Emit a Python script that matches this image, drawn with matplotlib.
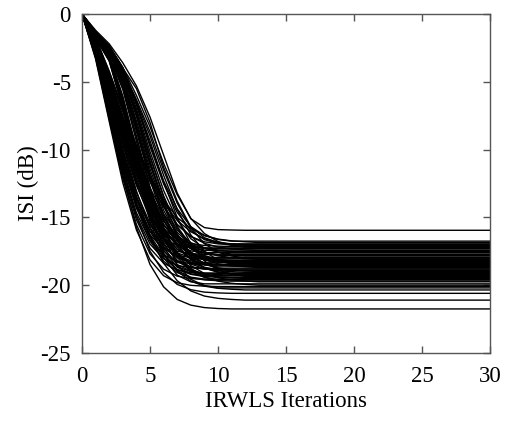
import matplotlib
matplotlib.use("Agg")
import matplotlib.pyplot as plt

plt.rcParams['font.family'] = ['Liberation Serif', 'DejaVu Serif']
plt.rcParams['axes.unicode_minus'] = False

iterations = list(range(31))

x_ticks = [0, 5, 10, 15, 20, 25, 30]
y_ticks = [-25, -20, -15, -10, -5, 0]
x_label = "IRWLS Iterations"
y_label = "ISI (dB)"

# ---- ISI (dB) per IRWLS iteration, one list per Monte Carlo run ----
run_a1 = [0, -3.32, -7.92, -12.44, -15.92, -18.13, -19.30, -19.82, -20.01, -20.07,
          -20.1, -20.1, -20.1, -20.1, -20.1, -20.1, -20.1, -20.1, -20.1, -20.1,
          -20.1, -20.1, -20.1, -20.1, -20.1, -20.1, -20.1, -20.1, -20.1, -20.1,
          -20.1]
run_a2 = [0, -3.16, -7.55, -11.85, -15.17, -17.27, -18.38, -18.88, -19.07, -19.13,
          -19.15, -19.15, -19.15, -19.15, -19.15, -19.15, -19.15, -19.15, -19.15, -19.15,
          -19.15, -19.15, -19.15, -19.15, -19.15, -19.15, -19.15, -19.15, -19.15, -19.15,
          -19.15]
run_a3 = [0, -3.05, -7.29, -11.45, -14.65, -16.69, -17.76, -18.24, -18.42, -18.48,
          -18.5, -18.5, -18.5, -18.5, -18.5, -18.5, -18.5, -18.5, -18.5, -18.5,
          -18.5, -18.5, -18.5, -18.5, -18.5, -18.5, -18.5, -18.5, -18.5, -18.5,
          -18.5]
run_a4 = [0, -3.23, -7.72, -12.13, -15.52, -17.68, -18.82, -19.33, -19.51, -19.57,
          -19.6, -19.6, -19.6, -19.6, -19.6, -19.6, -19.6, -19.6, -19.6, -19.6,
          -19.6, -19.6, -19.6, -19.6, -19.6, -19.6, -19.6, -19.6, -19.6, -19.6,
          -19.6]
run_a5 = [0, -2.85, -6.82, -10.71, -13.70, -15.60, -16.61, -17.06, -17.22, -17.28,
          -17.3, -17.3, -17.3, -17.3, -17.3, -17.3, -17.3, -17.3, -17.3, -17.3,
          -17.3, -17.3, -17.3, -17.3, -17.3, -17.3, -17.3, -17.3, -17.3, -17.3,
          -17.3]
run_a6 = [0, -2.98, -7.11, -11.17, -14.30, -16.28, -17.33, -17.80, -17.97, -18.03,
          -18.05, -18.05, -18.05, -18.05, -18.05, -18.05, -18.05, -18.05, -18.05, -18.05,
          -18.05, -18.05, -18.05, -18.05, -18.05, -18.05, -18.05, -18.05, -18.05, -18.05,
          -18.05]
run_a7 = [0, -3.10, -7.41, -11.64, -14.89, -16.96, -18.05, -18.54, -18.72, -18.78,
          -18.8, -18.8, -18.8, -18.8, -18.8, -18.8, -18.8, -18.8, -18.8, -18.8,
          -18.8, -18.8, -18.8, -18.8, -18.8, -18.8, -18.8, -18.8, -18.8, -18.8,
          -18.8]
run_a8 = [0, -2.93, -6.99, -10.99, -14.06, -16.01, -17.04, -17.50, -17.67, -17.73,
          -17.75, -17.75, -17.75, -17.75, -17.75, -17.75, -17.75, -17.75, -17.75, -17.75,
          -17.75, -17.75, -17.75, -17.75, -17.75, -17.75, -17.75, -17.75, -17.75, -17.75,
          -17.75]

run_b1 = [0, -3.09, -7.42, -11.92, -15.73, -18.47, -20.12, -21.05, -21.47, -21.65, -21.72,
          -21.75, -21.75, -21.75, -21.75, -21.75, -21.75, -21.75, -21.75, -21.75, -21.75,
          -21.75, -21.75, -21.75, -21.75, -21.75, -21.75, -21.75, -21.75, -21.75, -21.75]
run_b2 = [0, -2.93, -7.02, -11.29, -14.89, -17.49, -19.06, -19.94, -20.33, -20.51, -20.57,
          -20.6, -20.6, -20.6, -20.6, -20.6, -20.6, -20.6, -20.6, -20.6, -20.6,
          -20.6, -20.6, -20.6, -20.6, -20.6, -20.6, -20.6, -20.6, -20.6, -20.6]
run_b3 = [0, -2.73, -6.56, -10.55, -13.92, -16.34, -17.81, -18.63, -19.00, -19.16, -19.22,
          -19.25, -19.25, -19.25, -19.25, -19.25, -19.25, -19.25, -19.25, -19.25, -19.25,
          -19.25, -19.25, -19.25, -19.25, -19.25, -19.25, -19.25, -19.25, -19.25, -19.25]
run_b4 = [0, -2.68, -6.44, -10.36, -13.66, -16.05, -17.48, -18.30, -18.65, -18.81, -18.87,
          -18.9, -18.9, -18.9, -18.9, -18.9, -18.9, -18.9, -18.9, -18.9, -18.9,
          -18.9, -18.9, -18.9, -18.9, -18.9, -18.9, -18.9, -18.9, -18.9, -18.9]
run_b5 = [0, -2.58, -6.21, -9.97, -13.16, -15.45, -16.84, -17.62, -17.96, -18.12, -18.17,
          -18.2, -18.2, -18.2, -18.2, -18.2, -18.2, -18.2, -18.2, -18.2, -18.2,
          -18.2, -18.2, -18.2, -18.2, -18.2, -18.2, -18.2, -18.2, -18.2, -18.2]
run_b6 = [0, -2.49, -5.97, -9.59, -12.65, -14.86, -16.19, -16.94, -17.27, -17.42, -17.47,
          -17.5, -17.5, -17.5, -17.5, -17.5, -17.5, -17.5, -17.5, -17.5, -17.5,
          -17.5, -17.5, -17.5, -17.5, -17.5, -17.5, -17.5, -17.5, -17.5, -17.5]
run_b7 = [0, -2.76, -6.63, -10.66, -14.06, -16.51, -17.99, -18.83, -19.20, -19.36, -19.42,
          -19.45, -19.45, -19.45, -19.45, -19.45, -19.45, -19.45, -19.45, -19.45, -19.45,
          -19.45, -19.45, -19.45, -19.45, -19.45, -19.45, -19.45, -19.45, -19.45, -19.45]
run_b8 = [0, -2.63, -6.33, -10.17, -13.41, -15.75, -17.16, -17.96, -18.31, -18.47, -18.52,
          -18.55, -18.55, -18.55, -18.55, -18.55, -18.55, -18.55, -18.55, -18.55, -18.55,
          -18.55, -18.55, -18.55, -18.55, -18.55, -18.55, -18.55, -18.55, -18.55, -18.55]
run_b9 = [0, -2.80, -6.72, -10.80, -14.24, -16.73, -18.22, -19.07, -19.44, -19.61, -19.67,
          -19.7, -19.7, -19.7, -19.7, -19.7, -19.7, -19.7, -19.7, -19.7, -19.7,
          -19.7, -19.7, -19.7, -19.7, -19.7, -19.7, -19.7, -19.7, -19.7, -19.7]
run_b10 = [0, -2.44, -5.85, -9.40, -12.40, -14.56, -15.86, -16.60, -16.93, -17.07, -17.12,
           -17.15, -17.15, -17.15, -17.15, -17.15, -17.15, -17.15, -17.15, -17.15, -17.15,
           -17.15, -17.15, -17.15, -17.15, -17.15, -17.15, -17.15, -17.15, -17.15, -17.15]

run_c1 = [0, -2.53, -6.10, -9.98, -13.53, -16.37, -18.38, -19.67, -20.42, -20.80, -20.97, -21.05,
          -21.1, -21.1, -21.1, -21.1, -21.1, -21.1, -21.1, -21.1, -21.1, -21.1,
          -21.1, -21.1, -21.1, -21.1, -21.1, -21.1, -21.1, -21.1, -21.1]
run_c2 = [0, -2.44, -5.88, -9.63, -13.04, -15.79, -17.72, -18.97, -19.70, -20.07, -20.23, -20.30,
          -20.35, -20.35, -20.35, -20.35, -20.35, -20.35, -20.35, -20.35, -20.35, -20.35,
          -20.35, -20.35, -20.35, -20.35, -20.35, -20.35, -20.35, -20.35, -20.35]
run_c3 = [0, -2.34, -5.64, -9.22, -12.50, -15.13, -16.98, -18.17, -18.88, -19.23, -19.38, -19.45,
          -19.5, -19.5, -19.5, -19.5, -19.5, -19.5, -19.5, -19.5, -19.5, -19.5,
          -19.5, -19.5, -19.5, -19.5, -19.5, -19.5, -19.5, -19.5, -19.5]
run_c4 = [0, -2.20, -5.29, -8.66, -11.73, -14.20, -15.94, -17.06, -17.71, -18.04, -18.19, -18.26,
          -18.3, -18.3, -18.3, -18.3, -18.3, -18.3, -18.3, -18.3, -18.3, -18.3,
          -18.3, -18.3, -18.3, -18.3, -18.3, -18.3, -18.3, -18.3, -18.3]
run_c5 = [0, -2.14, -5.16, -8.44, -11.44, -13.85, -15.55, -16.64, -17.28, -17.60, -17.74, -17.81,
          -17.85, -17.85, -17.85, -17.85, -17.85, -17.85, -17.85, -17.85, -17.85, -17.85,
          -17.85, -17.85, -17.85, -17.85, -17.85, -17.85, -17.85, -17.85, -17.85]
run_c6 = [0, -2.29, -5.51, -9.01, -12.21, -14.78, -16.59, -17.75, -18.44, -18.78, -18.94, -19.00,
          -19.05, -19.05, -19.05, -19.05, -19.05, -19.05, -19.05, -19.05, -19.05, -19.05,
          -19.05, -19.05, -19.05, -19.05, -19.05, -19.05, -19.05, -19.05, -19.05]
run_c7 = [0, -2.23, -5.38, -8.80, -11.92, -14.43, -16.20, -17.34, -18.00, -18.34, -18.49, -18.56,
          -18.6, -18.6, -18.6, -18.6, -18.6, -18.6, -18.6, -18.6, -18.6, -18.6,
          -18.6, -18.6, -18.6, -18.6, -18.6, -18.6, -18.6, -18.6, -18.6]
run_c8 = [0, -2.27, -5.48, -8.96, -12.15, -14.71, -16.50, -17.66, -18.34, -18.68, -18.84, -18.90,
          -18.95, -18.95, -18.95, -18.95, -18.95, -18.95, -18.95, -18.95, -18.95, -18.95,
          -18.95, -18.95, -18.95, -18.95, -18.95, -18.95, -18.95, -18.95, -18.95]
run_c9 = [0, -2.11, -5.07, -8.30, -11.25, -13.62, -15.29, -16.36, -16.99, -17.30, -17.45, -17.51,
          -17.55, -17.55, -17.55, -17.55, -17.55, -17.55, -17.55, -17.55, -17.55, -17.55,
          -17.55, -17.55, -17.55, -17.55, -17.55, -17.55, -17.55, -17.55, -17.55]
run_c10 = [0, -2.19, -5.27, -8.62, -11.68, -14.14, -15.87, -16.98, -17.64, -17.96, -18.11, -18.18,
           -18.22, -18.22, -18.22, -18.22, -18.22, -18.22, -18.22, -18.22, -18.22, -18.22,
           -18.22, -18.22, -18.22, -18.22, -18.22, -18.22, -18.22, -18.22, -18.22]

run_d1 = [0, -2.08, -5.00, -8.28, -11.46, -14.18, -16.30, -17.80, -18.78, -19.38, -19.70, -19.86, -19.94,
          -20.0, -20.0, -20.0, -20.0, -20.0, -20.0, -20.0, -20.0, -20.0, -20.0,
          -20.0, -20.0, -20.0, -20.0, -20.0, -20.0, -20.0, -20.0]
run_d2 = [0, -2.01, -4.83, -7.99, -11.06, -13.68, -15.73, -17.18, -18.12, -18.70, -19.01, -19.16, -19.24,
          -19.3, -19.3, -19.3, -19.3, -19.3, -19.3, -19.3, -19.3, -19.3, -19.3,
          -19.3, -19.3, -19.3, -19.3, -19.3, -19.3, -19.3, -19.3]
run_d3 = [0, -1.92, -4.61, -7.64, -10.57, -13.08, -15.04, -16.42, -17.32, -17.88, -18.17, -18.32, -18.39,
          -18.45, -18.45, -18.45, -18.45, -18.45, -18.45, -18.45, -18.45, -18.45, -18.45,
          -18.45, -18.45, -18.45, -18.45, -18.45, -18.45, -18.45, -18.45]
run_d4 = [0, -1.78, -4.28, -7.08, -9.80, -12.12, -13.94, -15.22, -16.06, -16.57, -16.84, -16.98, -17.05,
          -17.1, -17.1, -17.1, -17.1, -17.1, -17.1, -17.1, -17.1, -17.1, -17.1,
          -17.1, -17.1, -17.1, -17.1, -17.1, -17.1, -17.1, -17.1]
run_d5 = [0, -1.88, -4.53, -7.49, -10.37, -12.83, -14.75, -16.11, -17.00, -17.54, -17.83, -17.97, -18.05,
          -18.1, -18.1, -18.1, -18.1, -18.1, -18.1, -18.1, -18.1, -18.1, -18.1,
          -18.1, -18.1, -18.1, -18.1, -18.1, -18.1, -18.1, -18.1]
run_d6 = [0, -2.05, -4.94, -8.18, -11.32, -14.00, -16.10, -17.58, -18.55, -19.14, -19.45, -19.61, -19.69,
          -19.75, -19.75, -19.75, -19.75, -19.75, -19.75, -19.75, -19.75, -19.75, -19.75,
          -19.75, -19.75, -19.75, -19.75, -19.75, -19.75, -19.75, -19.75]
run_d7 = [0, -1.75, -4.21, -6.98, -9.66, -11.95, -13.73, -15.00, -15.82, -16.33, -16.60, -16.73, -16.80,
          -16.85, -16.85, -16.85, -16.85, -16.85, -16.85, -16.85, -16.85, -16.85, -16.85,
          -16.85, -16.85, -16.85, -16.85, -16.85, -16.85, -16.85, -16.85]
run_d8 = [0, -1.98, -4.75, -7.87, -10.89, -13.47, -15.49, -16.91, -17.84, -18.41, -18.72, -18.87, -18.94,
          -19.0, -19.0, -19.0, -19.0, -19.0, -19.0, -19.0, -19.0, -19.0, -19.0,
          -19.0, -19.0, -19.0, -19.0, -19.0, -19.0, -19.0, -19.0]
run_d9 = [0, -1.81, -4.36, -7.22, -10.00, -12.37, -14.22, -15.53, -16.39, -16.91, -17.19, -17.33, -17.40,
          -17.45, -17.45, -17.45, -17.45, -17.45, -17.45, -17.45, -17.45, -17.45, -17.45,
          -17.45, -17.45, -17.45, -17.45, -17.45, -17.45, -17.45, -17.45]
run_d10 = [0, -1.94, -4.68, -7.74, -10.72, -13.26, -15.24, -16.64, -17.56, -18.12, -18.42, -18.57, -18.64,
           -18.7, -18.7, -18.7, -18.7, -18.7, -18.7, -18.7, -18.7, -18.7, -18.7,
           -18.7, -18.7, -18.7, -18.7, -18.7, -18.7, -18.7, -18.7]

run_e1 = [0, -1.79, -3.48, -6.98, -11.40, -15.30, -17.95, -19.26, -19.75,
          -19.9, -19.9, -19.9, -19.9, -19.9, -19.9, -19.9, -19.9, -19.9, -19.9,
          -19.9, -19.9, -19.9, -19.9, -19.9, -19.9, -19.9, -19.9, -19.9, -19.9,
          -19.9, -19.9]
run_e2 = [0, -1.72, -3.34, -6.70, -10.94, -14.69, -17.23, -18.48, -18.96,
          -19.1, -19.1, -19.1, -19.1, -19.1, -19.1, -19.1, -19.1, -19.1, -19.1,
          -19.1, -19.1, -19.1, -19.1, -19.1, -19.1, -19.1, -19.1, -19.1, -19.1,
          -19.1, -19.1]
run_e3 = [0, -1.65, -3.21, -6.44, -10.51, -14.11, -16.55, -17.76, -18.21,
          -18.35, -18.35, -18.35, -18.35, -18.35, -18.35, -18.35, -18.35, -18.35, -18.35,
          -18.35, -18.35, -18.35, -18.35, -18.35, -18.35, -18.35, -18.35, -18.35, -18.35,
          -18.35, -18.35]
run_e4 = [0, -1.58, -3.08, -6.18, -10.08, -13.53, -15.88, -17.03, -17.47,
          -17.6, -17.6, -17.6, -17.6, -17.6, -17.6, -17.6, -17.6, -17.6, -17.6,
          -17.6, -17.6, -17.6, -17.6, -17.6, -17.6, -17.6, -17.6, -17.6, -17.6,
          -17.6, -17.6]
run_e5 = [0, -1.69, -3.29, -6.60, -10.77, -14.46, -16.96, -18.19, -18.66,
          -18.8, -18.8, -18.8, -18.8, -18.8, -18.8, -18.8, -18.8, -18.8, -18.8,
          -18.8, -18.8, -18.8, -18.8, -18.8, -18.8, -18.8, -18.8, -18.8, -18.8,
          -18.8, -18.8]
run_e6 = [0, -1.62, -3.14, -6.30, -10.29, -13.80, -16.19, -17.37, -17.82,
          -17.95, -17.95, -17.95, -17.95, -17.95, -17.95, -17.95, -17.95, -17.95, -17.95,
          -17.95, -17.95, -17.95, -17.95, -17.95, -17.95, -17.95, -17.95, -17.95, -17.95,
          -17.95, -17.95]
run_e7 = [0, -1.76, -3.42, -6.86, -11.20, -15.03, -17.63, -18.92, -19.41,
          -19.55, -19.55, -19.55, -19.55, -19.55, -19.55, -19.55, -19.55, -19.55, -19.55,
          -19.55, -19.55, -19.55, -19.55, -19.55, -19.55, -19.55, -19.55, -19.55, -19.55,
          -19.55, -19.55]
run_e8 = [0, -1.67, -3.24, -6.49, -10.60, -14.23, -16.69, -17.90, -18.36,
          -18.5, -18.5, -18.5, -18.5, -18.5, -18.5, -18.5, -18.5, -18.5, -18.5,
          -18.5, -18.5, -18.5, -18.5, -18.5, -18.5, -18.5, -18.5, -18.5, -18.5,
          -18.5, -18.5]
run_e9 = [0, -1.55, -3.02, -6.05, -9.88, -13.27, -15.56, -16.69, -17.12,
          -17.25, -17.25, -17.25, -17.25, -17.25, -17.25, -17.25, -17.25, -17.25, -17.25,
          -17.25, -17.25, -17.25, -17.25, -17.25, -17.25, -17.25, -17.25, -17.25, -17.25,
          -17.25, -17.25]
run_e10 = [0, -1.74, -3.38, -6.77, -11.06, -14.84, -17.41, -18.67, -19.16,
           -19.3, -19.3, -19.3, -19.3, -19.3, -19.3, -19.3, -19.3, -19.3, -19.3,
           -19.3, -19.3, -19.3, -19.3, -19.3, -19.3, -19.3, -19.3, -19.3, -19.3,
           -19.3, -19.3]

run_f1 = [0, -1.72, -3.03, -5.58, -9.39, -13.27, -16.42, -18.50, -19.57, -20.02,
          -20.2, -20.2, -20.2, -20.2, -20.2, -20.2, -20.2, -20.2, -20.2, -20.2,
          -20.2, -20.2, -20.2, -20.2, -20.2, -20.2, -20.2, -20.2, -20.2, -20.2,
          -20.2]
run_f2 = [0, -1.65, -2.91, -5.35, -9.02, -12.75, -15.77, -17.77, -18.80, -19.23,
          -19.4, -19.4, -19.4, -19.4, -19.4, -19.4, -19.4, -19.4, -19.4, -19.4,
          -19.4, -19.4, -19.4, -19.4, -19.4, -19.4, -19.4, -19.4, -19.4, -19.4,
          -19.4]
run_f3 = [0, -1.59, -2.80, -5.15, -8.67, -12.25, -15.16, -17.08, -18.07, -18.49,
          -18.65, -18.65, -18.65, -18.65, -18.65, -18.65, -18.65, -18.65, -18.65, -18.65,
          -18.65, -18.65, -18.65, -18.65, -18.65, -18.65, -18.65, -18.65, -18.65, -18.65,
          -18.65]
run_f4 = [0, -1.48, -2.61, -4.80, -8.09, -11.43, -14.15, -15.94, -16.86, -17.25,
          -17.4, -17.4, -17.4, -17.4, -17.4, -17.4, -17.4, -17.4, -17.4, -17.4,
          -17.4, -17.4, -17.4, -17.4, -17.4, -17.4, -17.4, -17.4, -17.4, -17.4,
          -17.4]
run_f5 = [0, -1.54, -2.72, -5.01, -8.44, -11.92, -14.76, -16.63, -17.59, -17.99,
          -18.15, -18.15, -18.15, -18.15, -18.15, -18.15, -18.15, -18.15, -18.15, -18.15,
          -18.15, -18.15, -18.15, -18.15, -18.15, -18.15, -18.15, -18.15, -18.15, -18.15,
          -18.15]
run_f6 = [0, -1.44, -2.54, -4.68, -7.88, -11.14, -13.78, -15.53, -16.42, -16.80,
          -16.95, -16.95, -16.95, -16.95, -16.95, -16.95, -16.95, -16.95, -16.95, -16.95,
          -16.95, -16.95, -16.95, -16.95, -16.95, -16.95, -16.95, -16.95, -16.95, -16.95,
          -16.95]
run_f7 = [0, -1.56, -2.75, -5.05, -8.51, -12.02, -14.88, -16.76, -17.73, -18.14,
          -18.3, -18.3, -18.3, -18.3, -18.3, -18.3, -18.3, -18.3, -18.3, -18.3,
          -18.3, -18.3, -18.3, -18.3, -18.3, -18.3, -18.3, -18.3, -18.3, -18.3,
          -18.3]
run_f8 = [0, -1.67, -2.94, -5.41, -9.11, -12.88, -15.93, -17.95, -18.99, -19.43,
          -19.6, -19.6, -19.6, -19.6, -19.6, -19.6, -19.6, -19.6, -19.6, -19.6,
          -19.6, -19.6, -19.6, -19.6, -19.6, -19.6, -19.6, -19.6, -19.6, -19.6,
          -19.6]
run_f9 = [0, -1.51, -2.67, -4.91, -8.28, -11.69, -14.47, -16.30, -17.25, -17.65,
          -17.8, -17.8, -17.8, -17.8, -17.8, -17.8, -17.8, -17.8, -17.8, -17.8,
          -17.8, -17.8, -17.8, -17.8, -17.8, -17.8, -17.8, -17.8, -17.8, -17.8,
          -17.8]

run_g1 = [0, -1.54, -2.69, -4.51, -7.56, -11.00, -14.11, -16.47, -17.97, -18.73, -19.06,
          -19.2, -19.2, -19.2, -19.2, -19.2, -19.2, -19.2, -19.2, -19.2, -19.2,
          -19.2, -19.2, -19.2, -19.2, -19.2, -19.2, -19.2, -19.2, -19.2, -19.2]
run_g2 = [0, -1.47, -2.58, -4.32, -7.25, -10.54, -13.52, -15.79, -17.22, -17.95, -18.26,
          -18.4, -18.4, -18.4, -18.4, -18.4, -18.4, -18.4, -18.4, -18.4, -18.4,
          -18.4, -18.4, -18.4, -18.4, -18.4, -18.4, -18.4, -18.4, -18.4, -18.4]
run_g3 = [0, -1.42, -2.48, -4.16, -6.97, -10.14, -13.01, -15.19, -16.57, -17.27, -17.57,
          -17.7, -17.7, -17.7, -17.7, -17.7, -17.7, -17.7, -17.7, -17.7, -17.7,
          -17.7, -17.7, -17.7, -17.7, -17.7, -17.7, -17.7, -17.7, -17.7, -17.7]
run_g4 = [0, -1.34, -2.35, -3.94, -6.60, -9.60, -12.31, -14.37, -15.68, -16.34, -16.63,
          -16.75, -16.75, -16.75, -16.75, -16.75, -16.75, -16.75, -16.75, -16.75, -16.75,
          -16.75, -16.75, -16.75, -16.75, -16.75, -16.75, -16.75, -16.75, -16.75, -16.75]
run_g5 = [0, -1.46, -2.56, -4.29, -7.19, -10.46, -13.41, -15.66, -17.08, -17.81, -18.11,
          -18.25, -18.25, -18.25, -18.25, -18.25, -18.25, -18.25, -18.25, -18.25, -18.25,
          -18.25, -18.25, -18.25, -18.25, -18.25, -18.25, -18.25, -18.25, -18.25, -18.25]
run_g6 = [0, -1.51, -2.65, -4.44, -7.45, -10.83, -13.89, -16.22, -17.69, -18.44, -18.76,
          -18.9, -18.9, -18.9, -18.9, -18.9, -18.9, -18.9, -18.9, -18.9, -18.9,
          -18.9, -18.9, -18.9, -18.9, -18.9, -18.9, -18.9, -18.9, -18.9, -18.9]
run_g7 = [0, -1.36, -2.39, -4.01, -6.72, -9.77, -12.53, -14.63, -15.96, -16.64, -16.92,
          -17.05, -17.05, -17.05, -17.05, -17.05, -17.05, -17.05, -17.05, -17.05, -17.05,
          -17.05, -17.05, -17.05, -17.05, -17.05, -17.05, -17.05, -17.05, -17.05, -17.05]

run_h1 = [0, -1.45, -2.60, -4.30, -6.60, -9.35, -12.38, -15.00, -16.95, -18.21, -18.88, -19.18,
          -19.35, -19.35, -19.35, -19.35, -19.35, -19.35, -19.35, -19.35, -19.35, -19.35,
          -19.35, -19.35, -19.35, -19.35, -19.35, -19.35, -19.35, -19.35, -19.35]
run_h2 = [0, -1.35, -2.45, -4.10, -6.30, -8.69, -11.52, -13.95, -15.77, -16.94, -17.56, -17.84,
          -18.0, -18.0, -18.0, -18.0, -18.0, -18.0, -18.0, -18.0, -18.0, -18.0,
          -18.0, -18.0, -18.0, -18.0, -18.0, -18.0, -18.0, -18.0, -18.0]
run_h3 = [0, -1.29, -2.35, -3.95, -6.00, -8.31, -11.01, -13.33, -15.07, -16.19, -16.78, -17.05,
          -17.2, -17.2, -17.2, -17.2, -17.2, -17.2, -17.2, -17.2, -17.2, -17.2,
          -17.2, -17.2, -17.2, -17.2, -17.2, -17.2, -17.2, -17.2, -17.2]
run_h4 = [0, -1.40, -2.50, -4.20, -6.45, -8.98, -11.90, -14.42, -16.29, -17.50, -18.15, -18.44,
          -18.6, -18.6, -18.6, -18.6, -18.6, -18.6, -18.6, -18.6, -18.6, -18.6,
          -18.6, -18.6, -18.6, -18.6, -18.6, -18.6, -18.6, -18.6, -18.6]

run_o1 = [0, -1.2, -2.2, -3.6, -5.3, -7.6, -10.4, -13.2, -15.1, -15.75, -15.9, -15.93,
          -15.95, -15.95, -15.95, -15.95, -15.95, -15.95, -15.95, -15.95, -15.95, -15.95,
          -15.95, -15.95, -15.95, -15.95, -15.95, -15.95, -15.95, -15.95, -15.95]
run_o2 = [0, -1.3, -2.7, -4.0, -5.5, -8.0, -11.3, -13.8, -15.7, -16.5, -16.85, -16.95,
          -17.0, -17.0, -17.0, -17.0, -17.0, -17.0, -17.0, -17.0, -17.0, -17.0,
          -17.0, -17.0, -17.0, -17.0, -17.0, -17.0, -17.0, -17.0, -17.0]

runs = [run_a1, run_a2, run_a3, run_a4, run_a5, run_a6, run_a7, run_a8,
        run_b1, run_b2, run_b3, run_b4, run_b5, run_b6, run_b7, run_b8, run_b9, run_b10,
        run_c1, run_c2, run_c3, run_c4, run_c5, run_c6, run_c7, run_c8, run_c9, run_c10,
        run_d1, run_d2, run_d3, run_d4, run_d5, run_d6, run_d7, run_d8, run_d9, run_d10,
        run_e1, run_e2, run_e3, run_e4, run_e5, run_e6, run_e7, run_e8, run_e9, run_e10,
        run_f1, run_f2, run_f3, run_f4, run_f5, run_f6, run_f7, run_f8, run_f9,
        run_g1, run_g2, run_g3, run_g4, run_g5, run_g6, run_g7,
        run_h1, run_h2, run_h3, run_h4,
        run_o1, run_o2]

for i, r in enumerate(runs):
    assert len(r) == len(iterations), (i, len(r))

fig = plt.figure(figsize=(5.07, 4.25), dpi=100)
ax = fig.add_axes([82 / 507, 1 - 353 / 425, (490 - 82) / 507, (353 - 14) / 425])

for r in runs:
    ax.plot(iterations, r, color='black', linewidth=1.0)

ax.set_xlim(0, 30)
ax.set_ylim(-25, 0)
ax.set_xticks(x_ticks)
ax.set_yticks(y_ticks)
ax.set_xticklabels([str(t) for t in x_ticks])
ax.set_yticklabels([str(t) for t in y_ticks])

spine_color = '#555555'
for s in ax.spines.values():
    s.set_color(spine_color)
    s.set_linewidth(1.0)
ax.tick_params(direction='in', length=5, width=1.0, color=spine_color,
               top=True, right=True, labelsize=16.5, pad=8)
ax.tick_params(axis='x', pad=9)

ax.set_xlabel(x_label, fontsize=16.5, labelpad=3)
ax.set_ylabel(y_label, fontsize=16.5, labelpad=1)

fig.savefig("out.png", dpi=100)
